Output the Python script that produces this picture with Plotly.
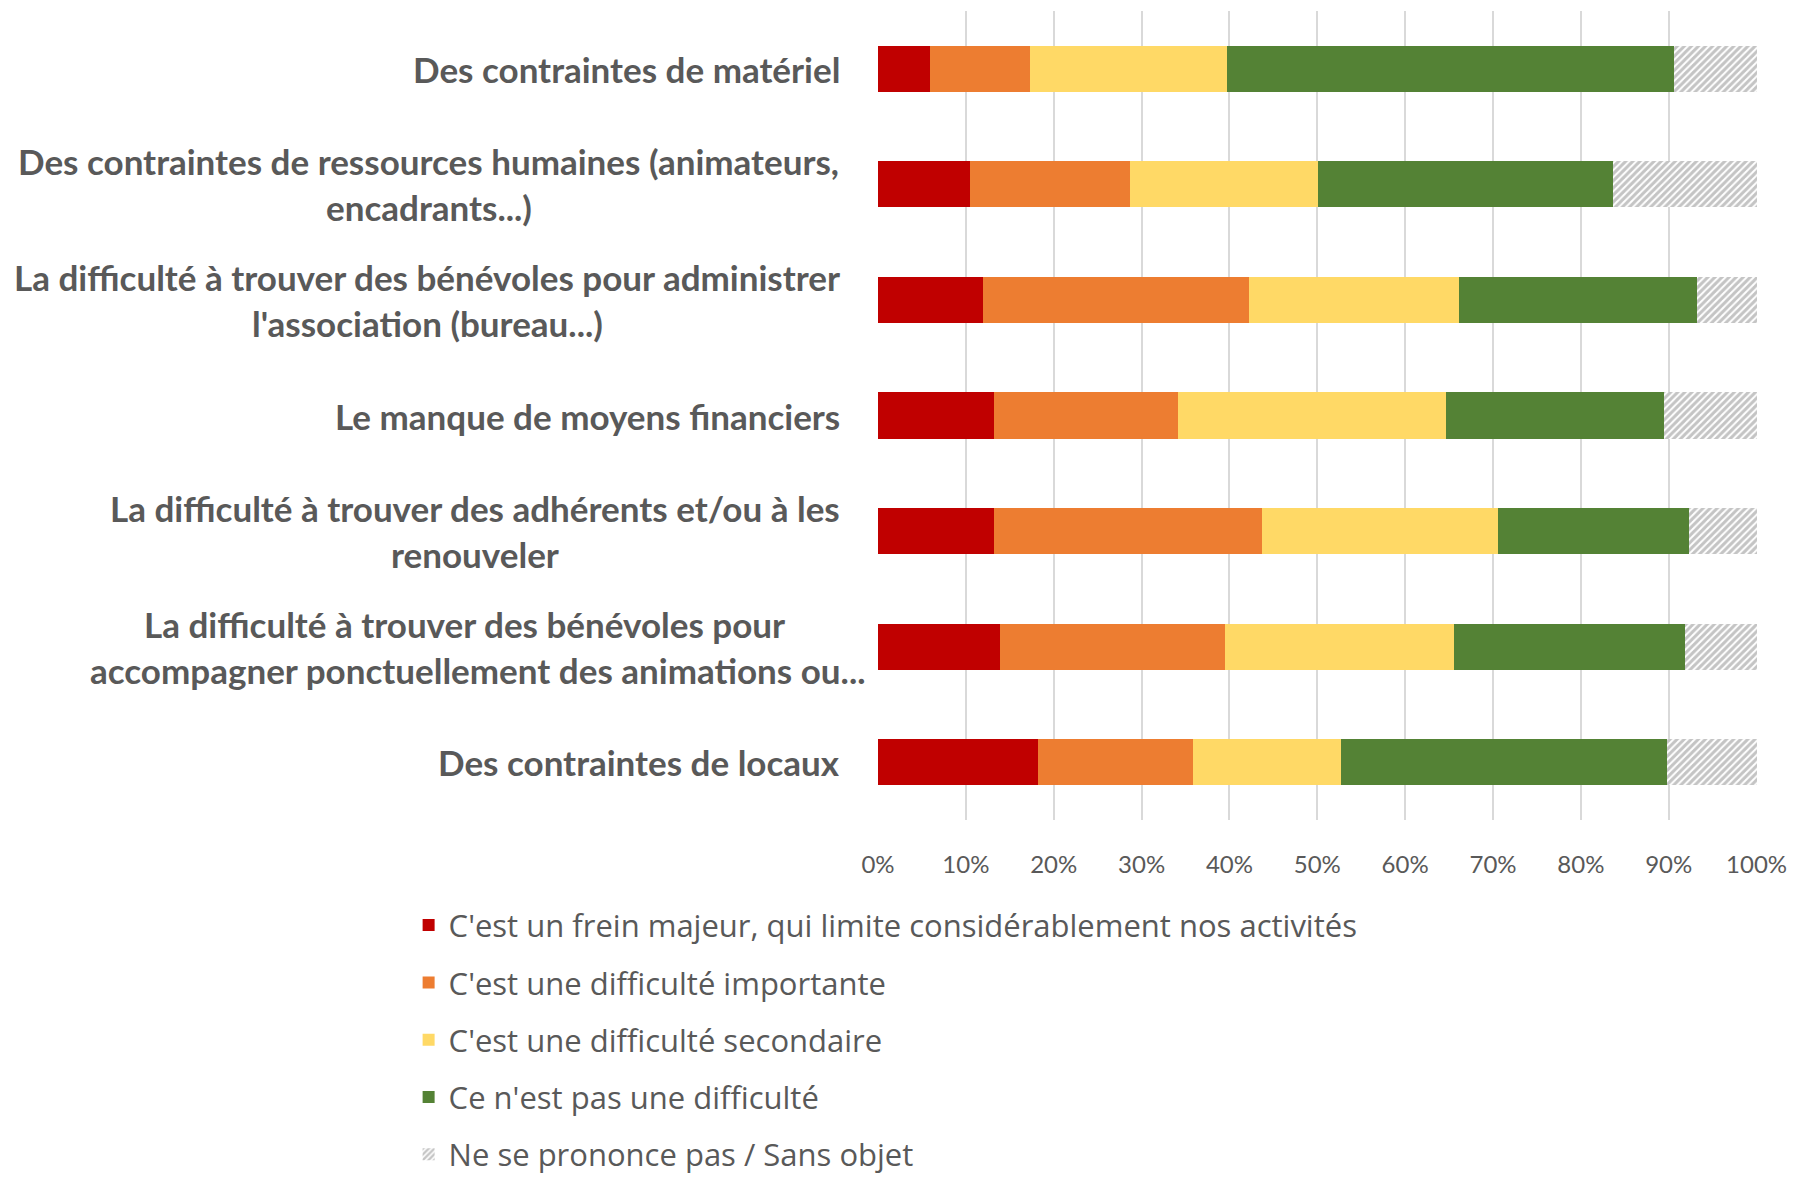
import plotly.graph_objects as go

# catégories (de haut en bas), découpées en lignes comme dans l'original
label_lines = [
    ["Des contraintes de matériel"],
    ["Des contraintes de ressources humaines (animateurs,", "encadrants...)"],
    ["La difficulté à trouver des bénévoles pour administrer", "l'association (bureau...)"],
    ["Le manque de moyens financiers"],
    ["La difficulté à trouver des adhérents et/ou à les", "renouveler"],
    ["La difficulté à trouver des bénévoles pour", "accompagner ponctuellement des animations ou..."],
    ["Des contraintes de locaux"],
]
categories = [" ".join(lines) for lines in label_lines]

frein_majeur = [5.9, 10.5, 11.9, 13.2, 13.2, 13.9, 18.2]
difficulte_importante = [11.4, 18.2, 30.3, 21.0, 30.5, 25.6, 17.7]
difficulte_secondaire = [22.4, 21.4, 23.9, 30.4, 26.9, 26.1, 16.8]
pas_difficulte = [50.9, 33.6, 27.1, 24.9, 21.7, 26.2, 37.1]
ne_se_prononce_pas = [9.4, 16.3, 6.8, 10.5, 7.7, 8.2, 10.2]

series_names = [
    "C'est un frein majeur, qui limite considérablement nos activités",
    "C'est une difficulté importante",
    "C'est une difficulté secondaire",
    "Ce n'est pas une difficulté",
    "Ne se prononce pas / Sans objet",
]
series_values = [frein_majeur, difficulte_importante, difficulte_secondaire,
                 pas_difficulte, ne_se_prononce_pas]
colors = ["#C00000", "#ED7D31", "#FFD966", "#548235", "#FFFFFF"]

FONT = "Lato"
TEXT_COLOR = "#595959"

fig = go.Figure()

for i, (name, vals, color) in enumerate(zip(series_names, series_values, colors)):
    marker = dict(color=color, line=dict(width=0))
    if i == 4:
        marker["pattern"] = dict(shape="/", fgcolor="#8A8A8A", bgcolor="#FFFFFF",
                                 size=5, solidity=0.6)
    fig.add_trace(
        go.Bar(
            y=categories,
            x=[v / 100 for v in vals],
            name=name,
            orientation="h",
            marker=marker,
            legendgroup=str(i),
        )
    )

# étiquettes des catégories (lignes centrées, comme dans Excel)
line_centers = {
    1: [-0.511, -0.511],
    2: [-0.513, -0.513],
    4: [-0.458, -0.458],
    5: [-0.470, -0.4555],
}
label_font = dict(family=FONT, size=35, color=TEXT_COLOR, weight="bold")
annotations = []
for idx, lines in enumerate(label_lines):
    if len(lines) == 1:
        annotations.append(dict(
            x=0, xref="paper", y=categories[idx], yref="y",
            xanchor="right", xshift=-36, yanchor="middle",
            text=lines[0], showarrow=False, font=label_font,
        ))
    else:
        for j, line in enumerate(lines):
            annotations.append(dict(
                x=line_centers[idx][j], xref="paper", y=categories[idx], yref="y",
                xanchor="center", yanchor="middle", yshift=23 if j == 0 else -23,
                text=line, showarrow=False, font=label_font,
            ))

fig.update_layout(
    width=1780,
    height=1171,
    barmode="stack",
    bargap=0.6,
    plot_bgcolor="white",
    paper_bgcolor="white",
    margin=dict(l=870, r=31, t=3, b=359, autoexpand=False),
    font=dict(family=FONT, color=TEXT_COLOR),
    annotations=annotations,
    legend=dict(
        x=-0.534,
        xanchor="left",
        y=-0.097,
        yanchor="top",
        traceorder="grouped",
        tracegroupgap=14,
        font=dict(family="Open Sans", size=31, color=TEXT_COLOR),
    ),
)

fig.update_xaxes(
    range=[0, 1.0005],
    tickformat=".0%",
    dtick=0.1,
    showgrid=True,
    gridcolor="#D9D9D9",
    gridwidth=1.5,
    zeroline=False,
    showline=False,
    ticklabelstandoff=28,
    ticklabeloverflow="allow",
    tickfont=dict(family=FONT, size=24, color=TEXT_COLOR),
)
fig.update_yaxes(
    autorange="reversed",
    showticklabels=False,
    showgrid=False,
    zeroline=False,
)

fig.write_html("out.html")
